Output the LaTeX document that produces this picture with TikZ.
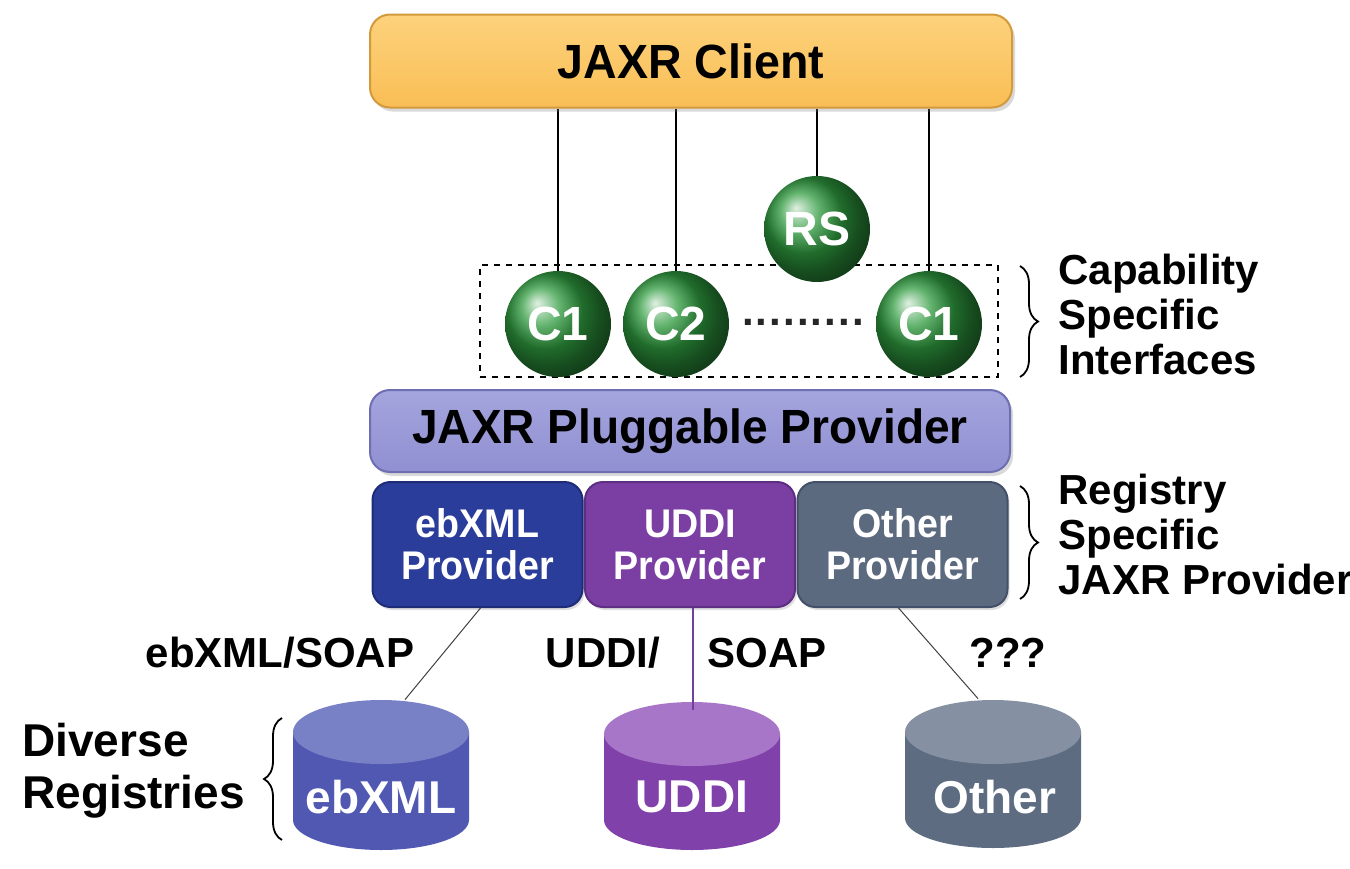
\documentclass[tikz,border=0pt]{standalone}
\usepackage{fontspec}
\setmainfont{Liberation Sans}
\usepackage{graphicx}
\usetikzlibrary{decorations.pathreplacing,shadows,backgrounds}

\definecolor{clientfill}{HTML}{F9BE55}
\definecolor{clienttop}{HTML}{FDD27C}
\definecolor{clientedge}{HTML}{D39A3C}
\definecolor{plugfill}{HTML}{9090D2}
\definecolor{plugtop}{HTML}{A4A4DE}
\definecolor{plugedge}{HTML}{6E6EB2}
\definecolor{ebfill}{HTML}{2B3D9B}
\definecolor{ebedge}{HTML}{1E2C78}
\definecolor{uddifill}{HTML}{7B3FA4}
\definecolor{uddiedge}{HTML}{5E2E82}
\definecolor{otherfill}{HTML}{5C6A80}
\definecolor{otheredge}{HTML}{44506A}
\definecolor{ifgreen}{HTML}{2E9A3E}
\definecolor{ebcyl}{HTML}{5058B2}
\definecolor{ebcyltop}{HTML}{7880C6}
\definecolor{uddicyl}{HTML}{8141AA}
\definecolor{uddicyltop}{HTML}{A776C8}
\definecolor{othcyl}{HTML}{5E6C82}
\definecolor{othcyltop}{HTML}{8590A2}
\definecolor{uddiline}{HTML}{7040A0}

% cylinder: #1 cx, #2 ytop, #3 ybottom, #4 body colour, #5 cap colour
\newcommand\regcylinder[5]{%
  \fill[#4] ({#1-88},{-(#2+32)}) -- ({#1-88},{-(#3-30)})
     arc[start angle=180,end angle=360,x radius=44pt,y radius=15pt]
     -- ({#1+88},{-(#2+32)}) -- cycle;
  \fill[#5] (#1,{-(#2+32)}) ellipse[x radius=44pt,y radius=16pt];
}

\begin{document}
\begin{tikzpicture}[x=0.5pt,y=0.5pt,
  every node/.style={font=\bfseries},
  layerbox/.style={rounded corners=10pt, inner sep=0pt, line width=1pt},
  clientbox/.style={layerbox, top color=clienttop, bottom color=clientfill, draw=clientedge,
     minimum width=321pt, minimum height=46.5pt,
     drop shadow={opacity=0.3,shadow xshift=1.5pt,shadow yshift=-2pt},
     font=\bfseries\fontsize{24}{26}\selectfont},
  plugbox/.style={layerbox, top color=plugtop, bottom color=plugfill, draw=plugedge,
     minimum width=320pt, minimum height=41pt,
     drop shadow={opacity=0.3,shadow xshift=1.5pt,shadow yshift=-2pt},
     font=\bfseries\fontsize{24}{26}\selectfont},
  provbox/.style={layerbox, rounded corners=9pt, minimum width=105pt, minimum height=62.5pt,
     text=white, align=center, font=\bfseries\fontsize{20}{21}\selectfont,
     drop shadow={opacity=0.25,shadow xshift=1pt,shadow yshift=-1.5pt}},
  iface/.style={circle, ball color=ifgreen, minimum size=53pt, inner sep=0pt,
     text=white, font=\bfseries\fontsize{24}{24}\selectfont},
  sidelbl/.style={anchor=west, align=left, inner sep=0pt, font=\bfseries\fontsize{21}{22.5}\selectfont},
  proto/.style={inner sep=0pt, font=\bfseries\fontsize{21}{22}\selectfont},
  cylbox/.style={minimum width=88pt, minimum height=75pt, inner sep=0pt},
  cyltxt/.style={inner sep=0pt, text=white, font=\bfseries\fontsize{23}{24}\selectfont},
  wire/.style={line width=0.8pt, black},
  thinwire/.style={line width=0.5pt, black!75},
  bracedeco/.style={decorate, decoration={brace, amplitude=9pt}, line width=0.9pt}
]
\useasboundingbox (0,0) rectangle (1350,-868);

% ---- layers ----
\node[clientbox] (client) at (691,-61) {\scalebox{0.97}[1]{JAXR Client}};
\node[plugbox] (plug) at (690,-431) {\scalebox{0.96}[1]{JAXR Pluggable Provider}};

\node[provbox, fill=ebfill, draw=ebedge] (prov1) at (477.5,-544.5) {\scalebox{0.94}[1]{ebXML}\\\scalebox{0.94}[1]{Provider}};
\node[provbox, fill=uddifill, draw=uddiedge] (prov2) at (690,-544.5) {\scalebox{0.94}[1]{UDDI}\\\scalebox{0.94}[1]{Provider}};
\node[provbox, fill=otherfill, draw=otheredge] (prov3) at (902.5,-544.5) {\scalebox{0.94}[1]{Other}\\\scalebox{0.94}[1]{Provider}};

% ---- interfaces ----
\node[draw, dashed, line width=0.7pt, minimum width=259pt, minimum height=56pt, inner sep=0pt] (ifgroup) at (739,-321) {};
\node[iface] (c1) at (558,-324) {C1};
\node[iface] (c2) at (676,-324) {C2};
\node[iface] (c3) at (929,-324) {C1};
\node[iface] (rs) at (817,-229) {RS};
\node[inner sep=0pt, text=black!85, font=\bfseries\fontsize{21}{21}\selectfont] (dots) at (803,-322) {\addfontfeature{LetterSpace=5}.........};

\begin{scope}[on background layer]
  \draw[wire] (c1.north |- client.south) -- (c1.north);
  \draw[wire] (c2.north |- client.south) -- (c2.north);
  \draw[wire] (rs.north |- client.south) -- (rs.north);
  \draw[wire] (c3.north |- client.south) -- (c3.north);
\end{scope}

% ---- registries ----
\regcylinder{381}{700}{850}{ebcyl}{ebcyltop}
\regcylinder{692}{702}{850}{uddicyl}{uddicyltop}
\regcylinder{993}{700}{848}{othcyl}{othcyltop}
\node[cylbox] (cyl1) at (381,-775) {};
\node[cylbox] (cyl2) at (692,-777) {};
\node[cylbox] (cyl3) at (993,-774) {};
\node[cyltxt] (cyl1txt) at (381,-797) {ebXML};
\node[cyltxt] (cyl2txt) at (692,-797) {UDDI};
\node[cyltxt] (cyl3txt) at (995,-797) {Other};

\draw[thinwire] ([xshift=1.5pt]prov1.south) -- ([xshift=12pt]cyl1.north);
\draw[line width=0.6pt, uddiline] ([xshift=1.5pt]prov2.south) -- ([xshift=0.5pt, yshift=-4pt]cyl2.north);
\draw[thinwire] ([xshift=-2pt]prov3.south) -- ([xshift=-7.5pt]cyl3.north);

% ---- protocol labels ----
\node[proto] (p1) at (280,-653) {ebXML/SOAP};
\node[proto] (p2) at (603,-653) {UDDI/};
\node[proto] (p3) at (767,-653) {SOAP};
\node[proto] (p4) at (1008,-653) {???};

% ---- braces and side labels ----
\draw[bracedeco] (1020,-266) -- (1020,-377) coordinate (capbr);
\draw[bracedeco] (1020,-486) -- (1020,-599) coordinate (regbr);
\draw[bracedeco] (282,-840) -- (282,-718) coordinate (divbr);

\node[sidelbl] (caplbl) at (1058,-314) {Capability\\Specific\\Interfaces};
\node[sidelbl] (reglbl) at (1058,-534) {Registry\\Specific\\JAXR Provider};
\node[anchor=west, align=left, inner sep=0pt, font=\bfseries\fontsize{23}{26}\selectfont] (divlbl) at (22,-771) {Diverse\\Registries};
\end{tikzpicture}
\end{document}
